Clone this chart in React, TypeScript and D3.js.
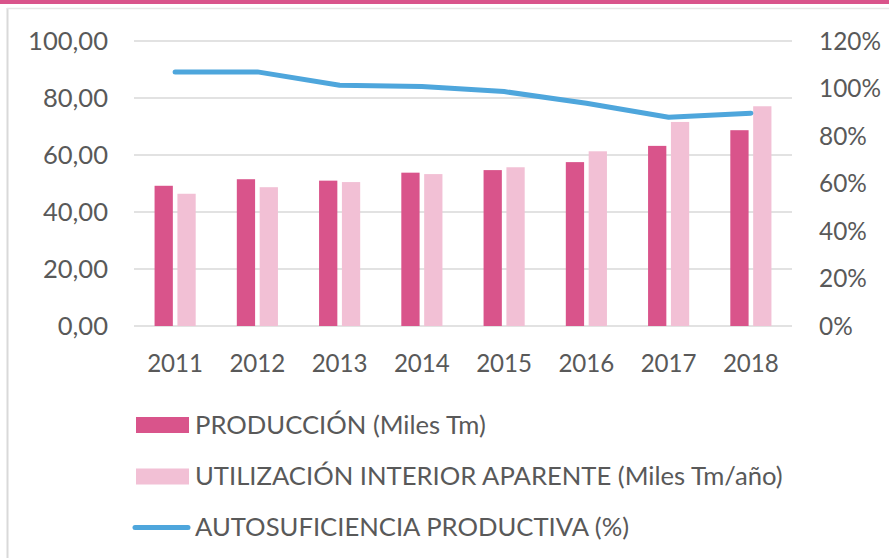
import React, { useRef, useEffect } from 'react';
import * as d3 from 'd3';

const years = ['2011', '2012', '2013', '2014', '2015', '2016', '2017', '2018'];
const produccion = [49.2, 51.5, 51.0, 53.8, 54.7, 57.5, 63.2, 68.7];
const utilizacion = [46.4, 48.7, 50.5, 53.3, 55.7, 61.3, 71.6, 77.1];
const autosuficiencia = [107, 107, 101.4, 100.8, 98.7, 93.8, 87.9, 89.6];
const leftTicks = [0, 20, 40, 60, 80, 100];
const rightTicks = [0, 20, 40, 60, 80, 100, 120];
const legendLabels = [
  'PRODUCCIÓN (Miles Tm)',
  'UTILIZACIÓN INTERIOR APARENTE (Miles Tm/año)',
  'AUTOSUFICIENCIA PRODUCTIVA (%)',
];

const W = 889;
const H = 558;
const DARK = '#d9548b';
const LIGHT = '#f2c0d5';
const BLUE = '#4ea6dc';
const TEXT = '#595959';
const FONT = 'Lato, "Open Sans", sans-serif';

// ajusta el tamaño de letra para que el texto más ancho mida lo que mide en la imagen
const fitFont = (sel: any, target: number) => {
  let maxW = 0;
  sel.each(function (this: SVGTextElement) {
    maxW = Math.max(maxW, this.getComputedTextLength());
  });
  if (maxW > 0) sel.style('font-size', `${(24 * target) / maxW}px`);
};

const App = () => {
  const ref = useRef<SVGSVGElement | null>(null);

  useEffect(() => {
    const svg = d3.select(ref.current);
    svg.selectAll('*').remove();

    const left = 134, right = 792, top = 41, bottom = 326;

    // marco
    svg.append('rect').attr('width', W).attr('height', H).attr('fill', '#fff');
    svg.append('rect').attr('x', 0).attr('y', 0).attr('width', W).attr('height', 4).attr('fill', DARK);
    svg.append('line').attr('x1', 7.5).attr('x2', 7.5).attr('y1', 8).attr('y2', H)
      .attr('stroke', '#d9d9d9').attr('stroke-width', 2);
    svg.append('line').attr('x1', 7).attr('x2', W).attr('y1', 8.5).attr('y2', 8.5)
      .attr('stroke', '#e6e6e6').attr('stroke-width', 1.5);

    const x = d3.scaleBand().domain(years).range([left, right]).paddingInner(0.5).paddingOuter(0.25);
    const x1 = d3.scaleBand().domain(['p', 'u']).range([0, x.bandwidth()]).paddingInner(0.2);
    const y = d3.scaleLinear().domain([0, 100]).range([bottom, top]);
    const y2 = d3.scaleLinear().domain([0, 120]).range([bottom, top]);

    // rejilla
    svg.append('g').selectAll('line').data(leftTicks).enter().append('line')
      .attr('x1', left).attr('x2', right)
      .attr('y1', d => y(d)).attr('y2', d => y(d))
      .attr('stroke', '#d9d9d9').attr('stroke-width', 1.5);

    // ejes
    const lt = svg.append('g').selectAll('text').data(leftTicks).enter().append('text')
      .attr('x', 108).attr('y', d => y(d)).attr('dy', '0.35em')
      .attr('text-anchor', 'end').attr('fill', TEXT)
      .style('font-family', FONT).style('font-size', '24px')
      .text(d => d3.format('.2f')(d).replace('.', ','));
    fitFont(lt, 80);

    const rt = svg.append('g').selectAll('text').data(rightTicks).enter().append('text')
      .attr('x', 819).attr('y', d => y2(d)).attr('dy', '0.35em')
      .attr('fill', TEXT)
      .style('font-family', FONT).style('font-size', '24px')
      .text(d => `${d}%`);
    fitFont(rt, 62);

    const xt = svg.append('g').selectAll('text').data(years).enter().append('text')
      .attr('x', d => (x(d) as number) + x.bandwidth() / 2).attr('y', 364).attr('dy', '0.35em')
      .attr('text-anchor', 'middle').attr('fill', TEXT)
      .style('font-family', FONT).style('font-size', '24px')
      .text(d => d);
    fitFont(xt, 56);

    // barras
    svg.append('g').selectAll('rect').data(years).enter().append('rect')
      .attr('x', d => (x(d) as number) + (x1('p') as number))
      .attr('y', (_, i) => y(produccion[i]))
      .attr('width', x1.bandwidth())
      .attr('height', (_, i) => bottom - y(produccion[i]))
      .attr('fill', DARK);

    svg.append('g').selectAll('rect').data(years).enter().append('rect')
      .attr('x', d => (x(d) as number) + (x1('u') as number))
      .attr('y', (_, i) => y(utilizacion[i]))
      .attr('width', x1.bandwidth())
      .attr('height', (_, i) => bottom - y(utilizacion[i]))
      .attr('fill', LIGHT);

    // línea
    const line = d3.line<number>()
      .x((_, i) => (x(years[i]) as number) + x.bandwidth() / 2)
      .y(d => y2(d));
    svg.append('path').datum(autosuficiencia)
      .attr('d', line)
      .attr('fill', 'none').attr('stroke', BLUE).attr('stroke-width', 5)
      .attr('stroke-linecap', 'round').attr('stroke-linejoin', 'round');

    // leyenda
    const legY = [425, 476.5, 527.5];
    const lg = svg.append('g');
    lg.append('rect').attr('x', 136).attr('y', legY[0] - 8).attr('width', 53).attr('height', 16).attr('fill', DARK);
    lg.append('rect').attr('x', 136).attr('y', legY[1] - 8).attr('width', 53).attr('height', 16).attr('fill', LIGHT);
    lg.append('line').attr('x1', 135).attr('x2', 188).attr('y1', legY[2]).attr('y2', legY[2])
      .attr('stroke', BLUE).attr('stroke-width', 5).attr('stroke-linecap', 'round');
    const lt2 = lg.selectAll('text').data(legendLabels).enter().append('text')
      .attr('x', 195).attr('y', (_, i) => legY[i]).attr('dy', '0.35em')
      .attr('fill', TEXT)
      .style('font-family', FONT).style('font-size', '24px')
      .text(d => d);
    fitFont(lt2, 588);
  }, []);

  return (
    <div style={{ position: 'absolute', left: 0, top: 0 }}>
      <svg ref={ref} width={W} height={H} style={{ display: 'block' }} />
    </div>
  );
};

export default App;
